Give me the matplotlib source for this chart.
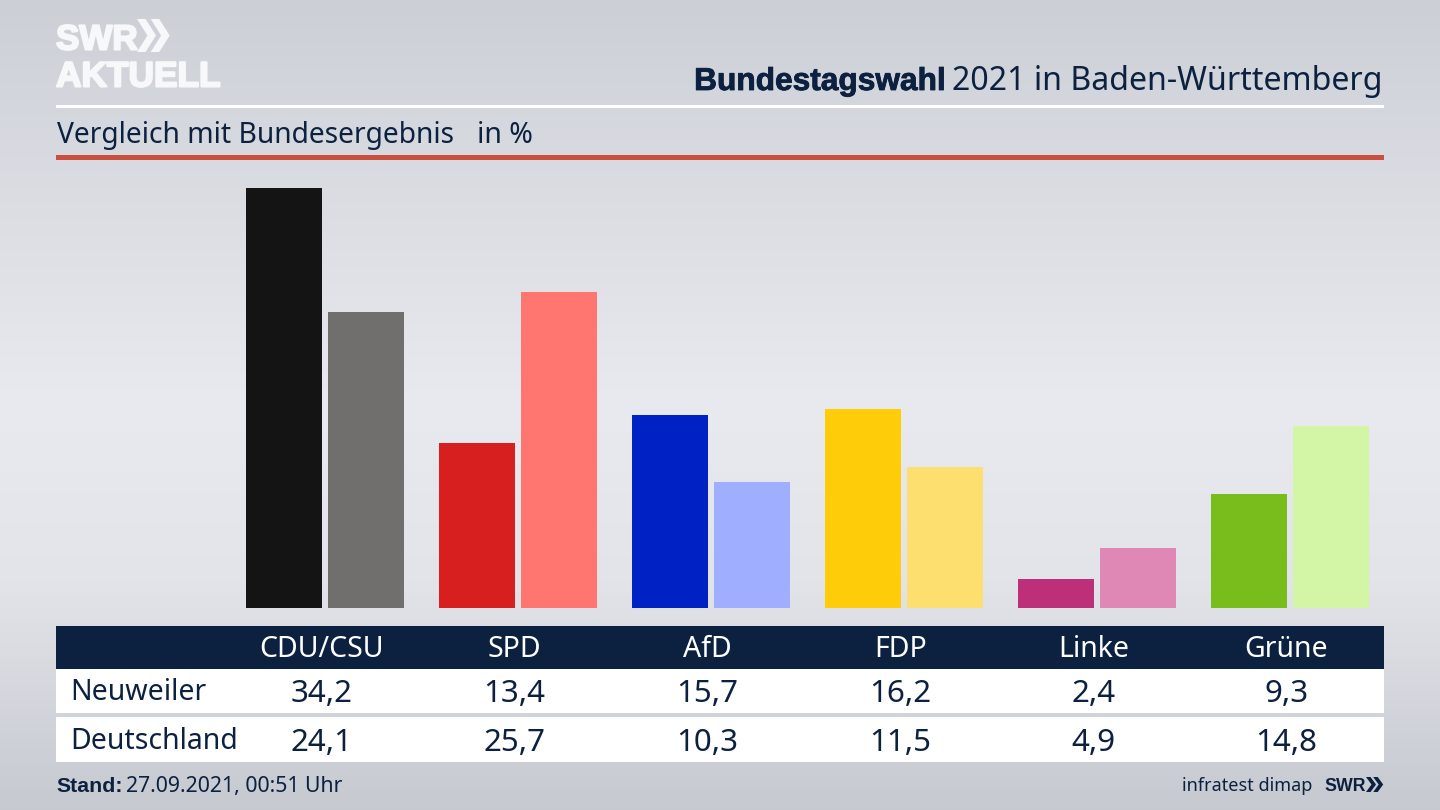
import numpy as np
import matplotlib
matplotlib.use('Agg')
import matplotlib.pyplot as plt
import matplotlib.patheffects as pe
from matplotlib.patches import Rectangle, Polygon
from matplotlib.colors import LinearSegmentedColormap

parties = ['CDU/CSU', 'SPD', 'AfD', 'FDP', 'Linke', 'Grüne']
neuweiler = [34.2, 13.4, 15.7, 16.2, 2.4, 9.3]
deutschland = [24.1, 25.7, 10.3, 11.5, 4.9, 14.8]
colors_dark = ['#141414', '#d71f1f', '#0022c4', '#ffcc0a', '#bd2f79', '#79bd1c']
colors_light = ['#706f6d', '#ff7570', '#a0aeff', '#fddf70', '#df88b6', '#d2f5a6']
row_names = ['Neuweiler', 'Deutschland']

navy = '#0c2140'
W, H = 1440, 810
plt.rcParams['font.family'] = ['Noto Sans', 'DejaVu Sans']
heavy = 'Liberation Sans'

fig = plt.figure(figsize=(W / 100, H / 100), dpi=100)

# background gradient
bg = fig.add_axes([0, 0, 1, 1], zorder=0)
cmap = LinearSegmentedColormap.from_list('bg', [(0, '#ccd0d6'), (0.5, '#e9eaef'), (0.72, '#e2e4e9'), (1, '#c6c9d0')])
bg.imshow(np.linspace(0, 1, 256).reshape(-1, 1), cmap=cmap, aspect='auto', extent=[0, W, H, 0])
bg.axis('off')

# bars
left, right, base, top = 56, 1384, 608, 160
px_per_unit = 12.28
group_step = 193
first_center = 324.9
ax = fig.add_axes([left / W, 1 - base / H, (right - left) / W, (base - top) / H], zorder=1)
ax.patch.set_alpha(0)
x = np.arange(len(parties))
ax.bar(x - 41 / group_step, neuweiler, width=76.5 / group_step, color=colors_dark)
ax.bar(x + 41 / group_step, deutschland, width=76.5 / group_step, color=colors_light)
ax.set_xlim((left - first_center) / group_step, (right - first_center) / group_step)
ax.set_ylim(0, (base - top) / px_per_unit)
ax.axis('off')

# everything else in pixel coordinates
ov = fig.add_axes([0, 0, 1, 1], zorder=2)
ov.set_xlim(0, W)
ov.set_ylim(H, 0)
ov.axis('off')

ov.add_patch(Rectangle((56, 104.5), 1328, 3, color='white', lw=0))
ov.add_patch(Rectangle((56, 155), 1328, 5, color='#c9503f', lw=0))
ov.add_patch(Rectangle((56, 626), 1328, 43, color=navy, lw=0))
ov.add_patch(Rectangle((56, 669), 1328, 44, color='white', lw=0))
ov.add_patch(Rectangle((56, 717), 1328, 45, color='white', lw=0))

# logo
logo_fx = [pe.withStroke(linewidth=1.5, foreground='#f7f8f9')]
ov.text(56, 49.5, 'SWR', color='#f7f8f9', fontsize=25.2, fontweight='bold', va='baseline', ha='left',
        family=heavy, path_effects=logo_fx)
ov.text(56, 86.5, 'AKTUELL', color='#f7f8f9', fontsize=25.4, fontweight='bold', va='baseline', ha='left',
        family=heavy, path_effects=logo_fx)


def chevrons(x0, y0, h, w, color):
    for dx in (0, w * 0.72):
        ov.add_patch(Polygon([(x0 + dx, y0), (x0 + dx + w * 0.45, y0), (x0 + dx + w, y0 + h / 2),
                              (x0 + dx + w * 0.45, y0 + h), (x0 + dx, y0 + h),
                              (x0 + dx + w * 0.55, y0 + h / 2)], closed=True, color=color, lw=0))


chevrons(137, 19, 33, 19, '#f7f8f9')
chevrons(1366, 777, 15, 10, navy)

# title, two weights, right aligned
renderer = fig.canvas.get_renderer()
t2 = ov.text(1383, 90, '2021 in Baden-Württemberg', color=navy, fontsize=23.1, ha='right', va='baseline')
x_start = t2.get_window_extent(renderer).x0
ov.text(x_start - 7, 90, 'Bundestagswahl', color=navy, fontsize=22.8, fontweight='bold', ha='right', va='baseline',
        family=heavy, path_effects=[pe.withStroke(linewidth=0.6, foreground=navy)])

ov.text(57, 143, 'Vergleich mit Bundesergebnis', color=navy, fontsize=20.3, ha='left', va='baseline')
ov.text(477, 143, 'in %', color=navy, fontsize=20.5, ha='left', va='baseline')

# table
for i, p in enumerate(parties):
    cx = 321.5 + group_step * i
    ov.text(cx, 657, p, color='white', fontsize=20.5, ha='center', va='baseline')
    ov.text(cx, 702, f'{neuweiler[i]:.1f}'.replace('.', ','), color=navy, fontsize=22.5, ha='center', va='baseline')
    ov.text(cx, 751, f'{deutschland[i]:.1f}'.replace('.', ','), color=navy, fontsize=22.5, ha='center', va='baseline')
ov.text(70, 700, row_names[0], color=navy, fontsize=20.5, ha='left', va='baseline')
ov.text(70, 749, row_names[1], color=navy, fontsize=20.5, ha='left', va='baseline')

# footer
ov.text(56, 792, 'Stand:', color=navy, fontsize=15.3, fontweight='bold', ha='left', va='baseline', family=heavy)
ov.text(126, 792, '27.09.2021, 00:51 Uhr', color=navy, fontsize=15.3, ha='left', va='baseline')
ov.text(1312, 791, 'infratest dimap', color=navy, fontsize=13, ha='right', va='baseline')
ov.text(1324, 791, 'SWR', color=navy, fontsize=12.8, fontweight='bold', ha='left', va='baseline', family=heavy)

fig.savefig('out.png', dpi=100)
